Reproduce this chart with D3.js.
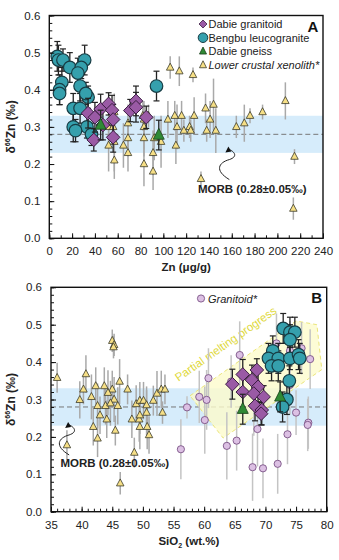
<!DOCTYPE html>
<html>
<head>
<meta charset="utf-8">
<script src="https://cdn.jsdelivr.net/npm/d3@7"></script>
<style>
body{margin:0;background:#fff;}
text{font-family:"Liberation Sans",Arial,sans-serif;}
</style>
</head>
<body>
<script>
// ---- panel A data (Zn vs d66Zn) ----
var znBengbu = [7, 8, 12, 18, 31, 28, 25, 11, 9, 9, 27, 34, 32, 21, 27, 21, 33, 37, 23, 94];
var dBengbu  = [0.49,0.48,0.48,0.46,0.48,0.46,0.445,0.42,0.40,0.39,0.41,0.38,0.39,0.35,0.35,0.30,0.30,0.28,0.29,0.41];
var eBengbu  = [0.04,0.04,0.03,0.04,0.04,0.03,0.04,0.04,0.04,0.03,0.04,0.03,0.03,0.04,0.04,0.04,0.03,0.03,0.03,0.04];

var znDabie = [34,40,45,52,55,56,71,76,76,85,56,39,47];
var dDabie  = [0.337,0.326,0.348,0.362,0.345,0.32,0.344,0.37,0.353,0.326,0.272,0.265,0.305];
var eDabie  = [0.04,0.04,0.04,0.03,0.04,0.04,0.03,0.04,0.04,0.03,0.04,0.03,0.04];

var znGneiss = [45, 96];
var dGneiss  = [0.305, 0.278];
var eGneiss  = [0.04, 0.04];

var znXeno = [52,56,57,57,52,57,65,69,69,69,82,87,83,83,83,83,92,98,91,91,104,110,116,127,141,112,111,118,123,124,138,146,137,144,106,114,126,164,171,176,187,207,215,133,214];
var dXeno  = [0.30,0.30,0.34,0.26,0.25,0.21,0.25,0.31,0.27,0.23,0.33,0.33,0.32,0.30,0.27,0.20,0.27,0.26,0.23,0.18,0.32,0.33,0.33,0.33,0.32,0.30,0.25,0.29,0.30,0.29,0.29,0.29,0.35,0.36,0.46,0.45,0.44,0.30,0.31,0.33,0.34,0.37,0.22,0.16,0.08];
var eXeno  = [0.05,0.04,0.05,0.08,0.07,0.05,0.06,0.05,0.05,0.05,0.04,0.03,0.05,0.06,0.05,0.06,0.06,0.07,0.06,0.05,0.05,0.04,0.04,0.05,0.05,0.06,0.05,0.03,0.03,0.03,0.03,0.06,0.04,0.07,0.03,0.04,0.02,0.03,0.05,0.02,0.02,0.05,0.02,0.02,0.03];

// ---- panel B data (SiO2 vs d66Zn) ----
var siBengbu = [72.9,74.0,74.8,74.0,71.2,70.5,72.1,71.0,72.1,74.0,75.4,75.6,73.9,73.5,72.8];
var dBengbuB = [0.49,0.48,0.48,0.46,0.43,0.41,0.41,0.39,0.39,0.41,0.42,0.41,0.35,0.30,0.28];
var eBengbuB = [0.04,0.04,0.04,0.04,0.04,0.04,0.04,0.04,0.04,0.03,0.04,0.04,0.04,0.04,0.04];

var siDabie = [64.6,66.3,68.6,67.8,68.8,66.3,68.1,69.7,68.3,69.4,69.3];
var dDabieB = [0.341,0.367,0.379,0.352,0.334,0.32,0.316,0.307,0.283,0.272,0.262];
var eDabieB = [0.04,0.04,0.03,0.04,0.04,0.04,0.04,0.03,0.04,0.04,0.03];

var siGneiss = [66.3, 72.4];
var dGneissB = [0.274, 0.307];
var eGneissB = [0.04, 0.04];

var siXeno = [36.0,39.7,40.7,41.6,40.3,42.3,42.6,43.7,43.9,45.0,45.3,45.2,45.0,44.3,46.2,45.3,44.7,45.9,47.5,48.9,49.5,50.1,50.6,51.7,52.3,53.0,53.6,37.6,41.9,42.6,43.0,44.1,45.5,46.3,48.2,48.6,49.4,49.5,49.5,50.6,50.7,51.0,53.2];
var dXenoB = [0.358,0.299,0.368,0.307,0.327,0.336,0.283,0.336,0.283,0.457,0.446,0.44,0.327,0.318,0.348,0.30,0.29,0.283,0.327,0.288,0.297,0.297,0.285,0.297,0.316,0.327,0.327,0.178,0.227,0.196,0.258,0.247,0.217,0.076,0.247,0.158,0.247,0.258,0.227,0.265,0.227,0.205,0.265];
var eXenoB = [0.04,0.05,0.05,0.06,0.04,0.05,0.06,0.05,0.05,0.03,0.03,0.03,0.05,0.06,0.06,0.06,0.06,0.05,0.04,0.05,0.05,0.05,0.05,0.04,0.06,0.05,0.04,0.04,0.05,0.05,0.05,0.05,0.04,0.03,0.05,0.04,0.06,0.05,0.06,0.06,0.06,0.05,0.03];

var siGran = [59.2,60.4,60.7,57.2,65.8,64.4,77.3,71.8,74.0,75.9,74.0,60.1,56.2,63.7,65.3,67.9,69.6,72.0,68.7,73.6,75.0,77.0,76.9,68.1];
var dGran  = [0.307,0.299,0.357,0.279,0.419,0.348,0.408,0.45,0.43,0.437,0.339,0.245,0.167,0.176,0.19,0.119,0.116,0.128,0.221,0.207,0.265,0.238,0.232,0.283];
var eGran  = [0.07,0.08,0.08,0.03,0.09,0.07,0.08,0.08,0.08,0.07,0.08,0.09,0.08,0.09,0.08,0.09,0.08,0.08,0.1,0.08,0.06,0.07,0.07,0.08];

// partial melting field outline (SiO2, d66Zn)
var meltField = [[57.7,0.31],[75.0,0.51],[78.4,0.50],[79.2,0.38],[63.1,0.197]];

var morbMean = 0.28, morbSd = 0.05;
var yTicks = [0,0.1,0.2,0.3,0.4,0.5,0.6];

var col = {
  teal:"#35a0ad", diamond:"#9a5aa5", green:"#2f8a35", xeno:"#f6df86",
  gran:"#dcc0e3", band:"#d6ecfb"
};

var svg = d3.select("body").append("svg").attr("width",339).attr("height",560);

function triPath(w,h){
  return "M0,"+(-h*0.62)+"L"+(w/2)+","+(h*0.38)+"L"+(-w/2)+","+(h*0.38)+"Z";
}
function diaPath(r){ return "M0,"+(-r)+"L"+r+",0L0,"+r+"L"+(-r)+",0Z"; }

function panel(o){
  var g = svg.append("g");
  var x = d3.scaleLinear().domain(o.xdom).range(o.xr);
  var y = d3.scaleLinear().domain([0,0.6]).range(o.yr);

  // MORB band + mean
  g.append("rect").attr("x",x.range()[0]).attr("width",x.range()[1]-x.range()[0])
    .attr("y",y(morbMean+morbSd)).attr("height",y(morbMean-morbSd)-y(morbMean+morbSd))
    .attr("fill",col.band);
  g.append("line").attr("x1",x.range()[0]).attr("x2",x.range()[1])
    .attr("y1",y(morbMean)).attr("y2",y(morbMean))
    .attr("stroke","#777").attr("stroke-dasharray","5,3").attr("stroke-width",1);

  if(o.before) o.before(g,x,y);

  o.series.forEach(function(s){
    var data = s.xs.map(function(v,i){return {x:v,y:s.ys[i],e:s.es[i]};});
    var eb = g.append("g");
    eb.selectAll("line.bar").data(data).enter().append("line")
      .attr("x1",function(d){return x(d.x);}).attr("x2",function(d){return x(d.x);})
      .attr("y1",function(d){return y(d.y+d.e);}).attr("y2",function(d){return y(d.y-d.e);})
      .attr("stroke",s.ebColor).attr("stroke-width",s.ebW||1.3);
    if(s.caps){
      [1,-1].forEach(function(sg){
        eb.selectAll(null).data(data).enter().append("line")
          .attr("x1",function(d){return x(d.x)-3;}).attr("x2",function(d){return x(d.x)+3;})
          .attr("y1",function(d){return y(d.y+sg*d.e);}).attr("y2",function(d){return y(d.y+sg*d.e);})
          .attr("stroke",s.ebColor).attr("stroke-width",1.2);
      });
    }
    var m = g.append("g").selectAll(null).data(data).enter();
    if(s.shape==="circle"){
      m.append("circle").attr("cx",function(d){return x(d.x);}).attr("cy",function(d){return y(d.y);})
        .attr("r",s.r).attr("fill",s.fill).attr("stroke",s.stroke).attr("stroke-width",s.sw);
    } else {
      m.append("path").attr("d",s.path)
        .attr("transform",function(d){return "translate("+x(d.x)+","+y(d.y)+")";})
        .attr("fill",s.fill).attr("stroke",s.stroke).attr("stroke-width",s.sw);
    }
  });

  // frame
  g.append("rect").attr("x",o.xr[0]).attr("y",o.yr[1]).attr("width",o.xr[1]-o.xr[0])
    .attr("height",o.yr[0]-o.yr[1]).attr("fill","none").attr("stroke","#111").attr("stroke-width",1.4);

  // axes (inward ticks)
  g.append("g").attr("transform","translate("+o.xr[0]+",0)")
    .call(d3.axisLeft(y).tickValues(yTicks).tickFormat(d3.format(".1f")).tickSize(-5).tickPadding(9));
  g.append("g").attr("transform","translate("+o.xr[0]+",0)")
    .call(d3.axisLeft(y).tickValues(d3.range(0,0.601,0.02)).tickFormat("").tickSize(-3));
  g.append("g").attr("transform","translate(0,"+o.yr[0]+")")
    .call(d3.axisBottom(x).tickValues(o.xticks).tickSize(-5).tickPadding(9));
  g.append("g").attr("transform","translate(0,"+o.yr[0]+")")
    .call(d3.axisBottom(x).tickValues(o.xminor).tickFormat("").tickSize(-3));
  g.selectAll(".domain").remove();
  g.selectAll(".tick line").attr("stroke","#111");
  g.selectAll(".tick text").attr("font-size",11.5).attr("fill","#222")
    .style("font-family","'Liberation Sans',Arial,sans-serif");

  // axis titles
  g.append("text").attr("x",(o.xr[0]+o.xr[1])/2).attr("y",o.yr[0]+33).attr("text-anchor","middle")
    .attr("font-size",11.5).attr("font-weight","bold").attr("fill","#222").html(o.xtitle);
  var yt = g.append("text").attr("transform","translate(15,"+((o.yr[0]+o.yr[1])/2)+") rotate(-90)")
    .attr("text-anchor","middle").attr("font-size",12).attr("font-weight","bold").attr("fill","#222");
  yt.append("tspan").text("δ");
  yt.append("tspan").attr("font-size",7).attr("dy",-5).text("66");
  yt.append("tspan").attr("dy",5).text("Zn (‰)");

  // panel letter
  g.append("text").attr("x",o.xr[1]-10).attr("y",o.yr[1]+16).attr("text-anchor","middle")
    .attr("font-size",15).attr("font-weight","bold").attr("fill","#111").text(o.letter);

  // MORB label with wavy arrow
  var tip = [x(o.arrow[0]), y(o.arrow[1])];
  g.append("path")
    .attr("d","M"+(tip[0]+1)+","+(tip[1]+33)+" C"+(tip[0]-14)+","+(tip[1]+24)+" "+(tip[0]-10)+","+(tip[1]+16)+" "+(tip[0]+1)+","+(tip[1]+13)
      +" C"+(tip[0]+10)+","+(tip[1]+10)+" "+(tip[0]+6)+","+(tip[1]+5)+" "+(tip[0]+1)+","+(tip[1]+3))
    .attr("fill","none").attr("stroke","#222").attr("stroke-width",1);
  g.append("path").attr("d","M"+tip[0]+","+tip[1]+"l-3,6l6,-1z").attr("fill","#111");
  g.append("text").attr("x",x(o.label[0])).attr("y",y(o.label[1])).attr("text-anchor","middle")
    .attr("font-size",11.5).attr("font-weight","bold").attr("fill","#222").text("MORB (0.28±0.05‰)");
  return {g:g,x:x,y:y};
}

var sBengbu = {shape:"circle",r:6.3,fill:col.teal,stroke:"#173c44",sw:1.2,ebColor:"#222",caps:true};
var sDabie = {path:diaPath(6.8),fill:col.diamond,stroke:"#3b1d42",sw:1,ebColor:"#222",caps:true};
var sGneiss = {path:triPath(11,11),fill:col.green,stroke:"#163d18",sw:0.8,ebColor:"#222",caps:true};
var sXeno = {path:triPath(7.5,7),fill:col.xeno,stroke:"#3a3a2a",sw:0.8,ebColor:"#a9a9a9",caps:false,ebW:1.5};

// ---- Panel A ----
var A = panel({
  xdom:[0,240], xr:[49.3,323], yr:[238.3,15.5],
  xticks:d3.range(0,241,20), xminor:d3.range(0,241,10),
  xtitle:"Zn (μg/g)", letter:"A", arrow:[157,0.247], label:[178,0.122],
  series:[
    Object.assign({xs:znXeno,ys:dXeno,es:eXeno},sXeno),
    Object.assign({xs:znBengbu,ys:dBengbu,es:eBengbu},sBengbu),
    Object.assign({xs:znDabie,ys:dDabie,es:eDabie},sDabie),
    Object.assign({xs:znGneiss,ys:dGneiss,es:eGneiss},sGneiss)
  ]
});

// legend A
var legA = [
  {t:"Dabie granitoid", p:diaPath(4), f:col.diamond, s:"#3b1d42", it:false},
  {t:"Bengbu leucogranite", c:true, f:col.teal, s:"#173c44", it:false},
  {t:"Dabie gneiss", p:triPath(7,7), f:col.green, s:"#163d18", it:false},
  {t:"Lower crustal xenolith*", p:triPath(7,7), f:col.xeno, s:"#3a3a2a", it:true}
];
var lg = A.g.append("g");
legA.forEach(function(d,i){
  var yy = 24 + i*13.7, xx = 203;
  if(d.c) lg.append("circle").attr("cx",xx).attr("cy",yy).attr("r",4.8).attr("fill",d.f).attr("stroke",d.s).attr("stroke-width",1);
  else lg.append("path").attr("d",d.p).attr("transform","translate("+xx+","+yy+")").attr("fill",d.f).attr("stroke",d.s).attr("stroke-width",0.8);
  lg.append("text").attr("x",xx+5.5).attr("y",yy+4).attr("font-size",11).attr("fill","#222")
    .attr("font-style",d.it?"italic":"normal").text(d.t);
});

// ---- Panel B ----
var B = panel({
  xdom:[35,80], xr:[51,326.7], yr:[511.7,287.3],
  xticks:d3.range(35,81,5), xminor:d3.range(35,81,1),
  xtitle:"SiO<tspan font-size='7' dy='3'>2</tspan><tspan dy='-3'> (wt.%)</tspan>", letter:"B",
  arrow:[37.8,0.24], label:[45.4,0.12],
  before:function(g,x,y){
    g.append("path").datum(meltField)
      .attr("d",d3.line().x(function(d){return x(d[0]);}).y(function(d){return y(d[1]);}).curve(d3.curveLinearClosed))
      .attr("fill","#fdfbcc").attr("fill-opacity",0.8).attr("stroke","#ebe57a").attr("stroke-width",1).attr("stroke-dasharray","4,3");
    g.append("text").attr("transform","translate("+x(63.9)+","+y(0.44)+") rotate(-35)")
      .attr("text-anchor","middle").attr("font-size",11.5).attr("fill","#e0d93c").text("Partial melting progress");
  },
  series:[
    Object.assign({xs:siGran,ys:dGran,es:eGran},{shape:"circle",r:3.6,fill:col.gran,stroke:"#7a5286",sw:0.9,ebColor:"#c4c4c4",caps:false,ebW:1.5}),
    Object.assign({xs:siXeno,ys:dXenoB,es:eXenoB},sXeno),
    Object.assign({xs:siBengbu,ys:dBengbuB,es:eBengbuB},sBengbu),
    Object.assign({xs:siDabie,ys:dDabieB,es:eDabieB},sDabie),
    Object.assign({xs:siGneiss,ys:dGneissB,es:eGneissB},sGneiss)
  ]
});
B.g.append("circle").attr("cx",201).attr("cy",298.5).attr("r",3.6).attr("fill",col.gran).attr("stroke","#7a5286").attr("stroke-width",0.9);
B.g.append("text").attr("x",208).attr("y",302.5).attr("font-size",11).attr("font-style","italic").attr("fill","#222").text("Granitoid*");
</script>
</body>
</html>
